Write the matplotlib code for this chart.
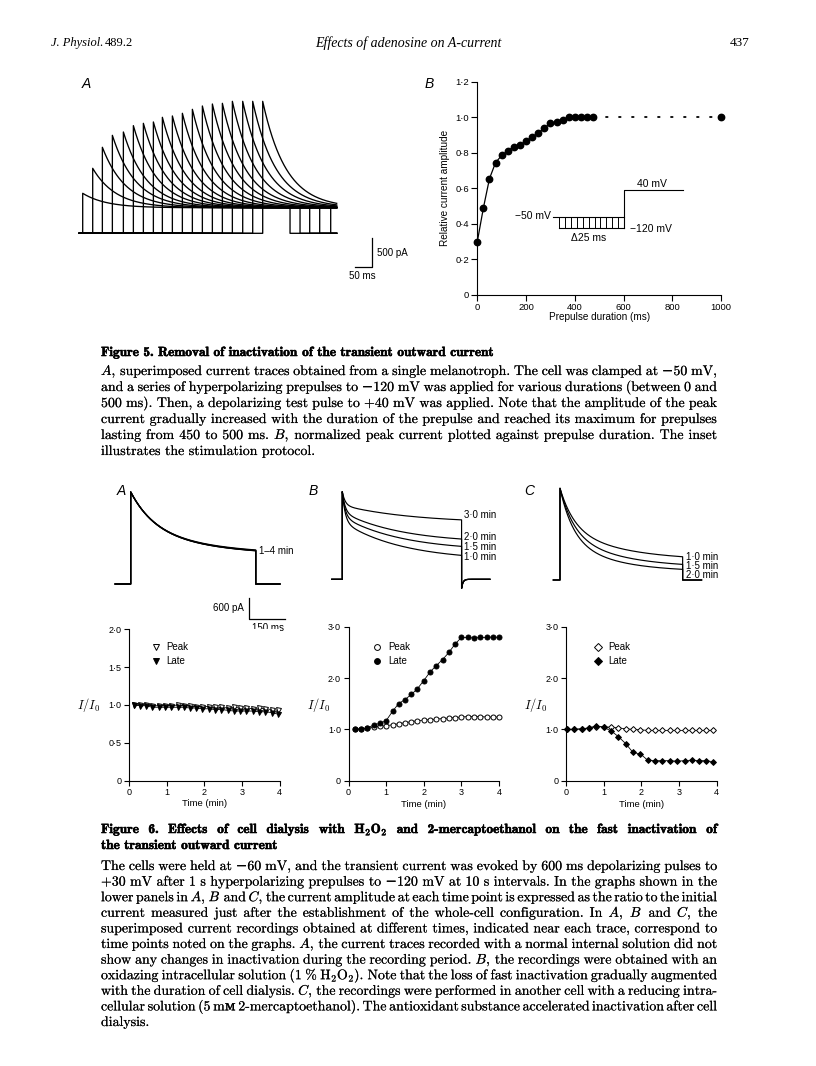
import numpy as np
import matplotlib.pyplot as plt
import matplotlib.patheffects as pe

plt.rcParams['mathtext.fontset'] = 'cm'
plt.rcParams['axes.linewidth'] = 0.8

W, H = 816, 1066
SANS = 'Liberation Sans'
SERIF = ['cmr10', 'DejaVu Serif', 'DejaVu Sans']
BOLD = ['cmb10', 'DejaVu Serif']

# ---------------- Figure 5A : superimposed current traces ----------------
f5a_onset_ms = [0, 30, 59, 89, 122, 152, 182, 212, 239, 269, 299, 329, 359, 389, 419, 449, 480, 510, 540]
f5a_peak_pA = [706, 1147, 1518, 1729, 1788, 1900, 1941, 1965, 2047, 2071, 2118, 2188, 2247, 2282, 2294,
               2329, 2329, 2329, 2329]
f5a_steady_pA = 450
f5a_tau_ms = 70
f5a_pulse_ms = 622
f5a_window_ms = (-10, 762)

# ---------------- Figure 5B : relative amplitude vs prepulse ----------------
f5b_prepulse_ms = [0, 25, 50, 75, 100, 125, 150, 175, 200, 225, 250, 275, 300, 325, 350, 375, 400, 425, 450, 475]
f5b_rel_amp = [0.30, 0.49, 0.655, 0.745, 0.785, 0.81, 0.835, 0.845, 0.865, 0.89, 0.91, 0.94, 0.965, 0.975,
               0.985, 1.0, 1.0, 1.0, 1.0, 1.0]
f5b_long_ms = 1000
f5b_long_amp = 1.0
f5b_xticks = [0, 200, 400, 600, 800, 1000]
f5b_yticks = [0, 0.2, 0.4, 0.6, 0.8, 1.0, 1.2]
f5b_yticklabels = ['0', '0·2', '0·4', '0·6', '0·8', '1·0', '1·2']

# ---------------- Figure 6 traces ----------------
f6a_steady = [800, 785, 815, 795]
f6a_fast = [1086, 1090, 1075, 1100]
f6a_slow = [743, 760, 735, 735]
f6a_tau = (100, 330)
f6a_pulse_ms = 521

f6b_labels = ['1·0 min', '1·5 min', '2·0 min', '3·0 min']
f6b_steady = [531, 806, 1029, 1600]
f6b_fast = [857, 714, 589, 389]
f6b_slow = [1114, 983, 886, 514]
f6b_tau_slow = [250, 250, 250, 300]
f6b_tau_fast = 12
f6b_pulse_ms = 497
f6b_undershoot = -257

f6c_labels = ['1·0 min', '1·5 min', '2·0 min']
f6c_steady = [543, 343, 229]
f6c_fast = [1143, 1286, 1429]
f6c_slow = [934, 991, 963]
f6c_tau_fast = [60, 58, 55]
f6c_tau_slow = [250, 225, 200]
f6c_pulse_ms = 511

# ---------------- Figure 6 time courses ----------------
t_a = [0.12, 0.29, 0.45, 0.62, 0.79, 0.95, 1.12, 1.29, 1.45, 1.62, 1.79, 1.95, 2.12, 2.29, 2.45, 2.62,
       2.79, 2.95, 3.12, 3.29, 3.45, 3.62, 3.79, 3.95]
peak_a = [1.0, 1.0, 1.0, 0.99, 0.99, 0.99, 0.99, 1.0, 0.99, 0.99, 0.98, 0.98, 0.98, 0.97, 0.97, 0.96,
          0.97, 0.96, 0.96, 0.95, 0.96, 0.95, 0.94, 0.93]
late_a = [1.0, 0.99, 0.99, 0.97, 0.97, 0.97, 0.97, 0.97, 0.97, 0.96, 0.96, 0.95, 0.95, 0.94, 0.94, 0.93,
          0.92, 0.92, 0.92, 0.92, 0.91, 0.91, 0.90, 0.88]

t_b = [0.17, 0.33, 0.5, 0.67, 0.83, 1.0, 1.17, 1.33, 1.5, 1.67, 1.83, 2.0, 2.17, 2.33, 2.5, 2.67, 2.83,
       3.0, 3.17, 3.33, 3.5, 3.67, 3.83, 4.0]
peak_b = [1.0, 1.01, 1.02, 1.04, 1.06, 1.07, 1.09, 1.11, 1.13, 1.15, 1.17, 1.18, 1.19, 1.20, 1.21, 1.22,
          1.23, 1.24, 1.25, 1.25, 1.25, 1.24, 1.24, 1.24]
late_b = [1.0, 1.01, 1.02, 1.09, 1.115, 1.17, 1.35, 1.50, 1.58, 1.68, 1.79, 1.95, 2.12, 2.24, 2.36, 2.50,
          2.66, 2.79, 2.79, 2.78, 2.79, 2.79, 2.80, 2.79]

t_c = [0.03, 0.22, 0.42, 0.61, 0.81, 1.0, 1.2, 1.39, 1.59, 1.78, 1.98, 2.17, 2.37, 2.56, 2.76, 2.95,
       3.15, 3.34, 3.54, 3.73, 3.9]
peak_c = [1.0, 1.0, 1.01, 1.02, 1.05, 1.05, 1.04, 1.03, 1.01, 1.0, 0.99, 0.98, 0.98, 0.98, 0.98, 0.98,
          0.98, 0.98, 0.98, 0.98, 0.98]
late_c = [1.0, 1.0, 1.01, 1.03, 1.07, 1.04, 0.97, 0.86, 0.72, 0.55, 0.52, 0.40, 0.39, 0.39, 0.39, 0.38,
          0.39, 0.40, 0.39, 0.39, 0.37]

time_ticks = [0, 1, 2, 3, 4]
yt_a = [0, 0.5, 1.0, 1.5, 2.0]
ytl_a = ['0', '0·5', '1·0', '1·5', '2·0']
yt_bc = [0, 1.0, 2.0, 3.0]
ytl_bc = ['0', '1·0', '2·0', '3·0']

# ---------------- captions ----------------
cap5_title = 'Figure 5. Removal of inactivation of the transient outward current'
cap5_lines = [
    '$A$, superimposed current traces obtained from a single melanotroph. The cell was clamped at \u221250 mV,',
    'and a series of hyperpolarizing prepulses to \u2212120 mV was applied for various durations (between 0 and',
    '500 ms). Then, a depolarizing test pulse to +40 mV was applied. Note that the amplitude of the peak',
    'current gradually increased with the duration of the prepulse and reached its maximum for prepulses',
    'lasting from 450 to 500 ms. $B$, normalized peak current plotted against prepulse duration. The inset',
    'illustrates the stimulation protocol.',
]
cap6_title = [
    r'Figure 6. Effects of cell dialysis with H$_\mathbf{2}$O$_\mathbf{2}$ and 2-mercaptoethanol on the fast inactivation of',
    'the transient outward current',
]
cap6_lines = [
    'The cells were held at \u221260 mV, and the transient current was evoked by 600 ms depolarizing pulses to',
    '+30 mV after 1 s hyperpolarizing prepulses to \u2212120 mV at 10 s intervals. In the graphs shown in the',
    'lower panels in $A$, $B$ and $C$, the current amplitude at each time point is expressed as the ratio to the initial',
    'current measured just after the establishment of the whole-cell configuration. In $A$, $B$ and $C$, the',
    'superimposed current recordings obtained at different times, indicated near each trace, correspond to',
    'time points noted on the graphs. $A$, the current traces recorded with a normal internal solution did not',
    'show any changes in inactivation during the recording period. $B$, the recordings were obtained with an',
    r'oxidazing intracellular solution (1 % H$_2$O$_2$). Note that the loss of fast inactivation gradually augmented',
    'with the duration of cell dialysis. $C$, the recordings were performed in another cell with a reducing intra-',
    'cellular solution (5 m\u1d0d 2-mercaptoethanol). The antioxidant substance accelerated inactivation after cell',
    'dialysis.',
]

fig = plt.figure(figsize=(W / 100, H / 100), dpi=100)
renderer = fig.canvas.get_renderer()
INK = [pe.withStroke(linewidth=0.08, foreground='k')]
INK_BOLD = [pe.withStroke(linewidth=0.4, foreground='k')]


def px_axes(left, top, right, bottom):
    return fig.add_axes([left / W, 1 - bottom / H, (right - left) / W, (bottom - top) / H])


def trace_axes(box, x0, y0, xs, ys):
    # axes whose data units are ms / pA, t=0 and I=0 sit at pixel (x0, y0)
    left, top, right, bottom = box
    ax = px_axes(*box)
    ax.set_xlim((left - x0) / xs, (right - x0) / xs)
    ax.set_ylim((y0 - bottom) / ys, (y0 - top) / ys)
    ax.axis('off')
    return ax


def ftext(x, y, s, **kw):
    return fig.text(x / W, 1 - y / H, s, **kw)


def text_width(s, **kw):
    t = fig.text(0, 0, s, **kw)
    w = t.get_window_extent(renderer).width
    t.remove()
    return w


def pulse_trace(onset, dur, window, steady, comps, after=None):
    # current during a test pulse: steady + sum of exponential components
    t_end = min(onset + dur, window[1])
    tt = np.linspace(onset, t_end, 600)
    ii = steady + sum(a * np.exp(-(tt - onset) / tau) for a, tau in comps)
    xs = np.concatenate([[window[0], onset], tt])
    ys = np.concatenate([[0, 0], ii])
    if onset + dur < window[1]:
        if after is None:
            xs = np.concatenate([xs, [onset + dur, window[1]]])
            ys = np.concatenate([ys, [0, 0]])
        else:
            amp, tau = after
            t2 = np.linspace(onset + dur, window[1], 200)
            xs = np.concatenate([xs, t2])
            ys = np.concatenate([ys, amp * np.exp(-(t2 - onset - dur) / tau)])
    return xs, ys


# ================= header =================
hx = 51
ftext(hx, 46, 'J. Physiol.', family='Liberation Serif', style='italic', fontsize=9, va='baseline')
hx += text_width('J. Physiol.', family='Liberation Serif', style='italic', fontsize=9) + 1
ftext(hx, 46, '489.2', family='Liberation Serif', fontsize=9, va='baseline')
ftext(408, 47, 'Effects of adenosine on A-current', family='Liberation Serif', style='italic',
      fontsize=10, ha='center', va='baseline')
ftext(750, 46, '437', family='Liberation Serif', fontsize=9.5, ha='right', va='baseline')

# ================= Figure 5A =================
ftext(82, 88, 'A', family=SANS, style='italic', fontsize=10, va='baseline')
ax5a = trace_axes((60, 60, 440, 320), 82.7, 233.3, 1 / 3, 85 / 3 / 500)
for on, pk in zip(f5a_onset_ms, f5a_peak_pA):
    x, y = pulse_trace(on, f5a_pulse_ms, f5a_window_ms, f5a_steady_pA,
                       [(pk - f5a_steady_pA, f5a_tau_ms)])
    ax5a.plot(x, y, color='k', lw=0.95)
# scale bar 500 pA / 50 ms
sb_t, sb_i = 867, -589
ax5a.plot([sb_t - 50, sb_t, sb_t], [sb_i, sb_i, sb_i + 500], color='k', lw=0.9)
ax5a.text(sb_t + 15, sb_i + 250, '500 pA', family=SANS, fontsize=7, va='center')
ax5a.text(sb_t - 29, sb_i - 165, '50 ms', family=SANS, fontsize=7, ha='center', va='center')

# ================= Figure 5B =================
ftext(425, 88, 'B', family=SANS, style='italic', fontsize=10, va='baseline')
ax5b = px_axes(477.3, 81.7, 721, 295)
ax5b.plot(f5b_prepulse_ms, f5b_rel_amp, color='k', lw=0.9, marker='o', ms=4.6, clip_on=False, zorder=4)
ax5b.plot([f5b_prepulse_ms[-1], f5b_long_ms], [f5b_rel_amp[-1], f5b_long_amp], color='k', lw=1.3,
          linestyle=(0, (0.9, 6.3)), dash_capstyle='round')
ax5b.plot([f5b_long_ms], [f5b_long_amp], 'o', color='k', ms=4.6, clip_on=False, zorder=4)
ax5b.set_xlim(0, 1000)
ax5b.set_ylim(0, 1.2)
ax5b.set_xticks(f5b_xticks)
ax5b.set_yticks(f5b_yticks)
ax5b.set_yticklabels(f5b_yticklabels)
for s in ('top', 'right'):
    ax5b.spines[s].set_visible(False)
ax5b.tick_params(direction='out', length=4, width=0.8, labelsize=6.8, pad=2)
for lab in ax5b.get_xticklabels() + ax5b.get_yticklabels():
    lab.set_family(SANS)
ax5b.text(0.5, -0.102, 'Prepulse duration (ms)', transform=ax5b.transAxes, family=SANS, fontsize=7.2,
          ha='center', va='center')
ax5b.text(-0.131, 0.5, 'Relative current amplitude', transform=ax5b.transAxes, family=SANS, fontsize=7.2,
          ha='center', va='center', rotation=90)
# protocol inset
hold_y, pre_y, test_y = 0.439, 0.379, 0.593
p0, p1, dstep, nstep, p_end = 312, 336, 24.2, 11, 845
p_test = p1 + nstep * dstep
ax5b.plot([p0, p_test], [hold_y, hold_y], color='k', lw=0.8)
ax5b.plot([p1, p_test], [pre_y, pre_y], color='k', lw=0.8)
for k in range(nstep):
    ax5b.plot([p1 + k * dstep] * 2, [pre_y, hold_y], color='k', lw=0.7)
ax5b.plot([p_test, p_test, p_end], [pre_y, test_y, test_y], color='k', lw=0.8)
ax5b.text(715, 0.626, '40 mV', family=SANS, fontsize=7.5, ha='center', va='center')
ax5b.text(302, 0.445, '\u221250 mV', family=SANS, fontsize=7.5, ha='right', va='center')
ax5b.text(626, 0.37, '\u2212120 mV', family=SANS, fontsize=7.5, ha='left', va='center')
ax5b.text(455, 0.323, '\u039425 ms', family=SANS, fontsize=7.5, ha='center', va='center')

# ================= captions helper =================
L, R = 101, 717


def space_w(family, fs, weight='normal'):
    return text_width('a a', family=family, fontsize=fs, weight=weight) - \
        text_width('aa', family=family, fontsize=fs, weight=weight)


def fit_size(lines, family, weight='normal', base=10.0, min_gap=0.55):
    # largest size at which every line still fits with word gaps >= min_gap * normal space
    sp = space_w(family, base, weight)
    best = 99
    for line in lines:
        words = line.split(' ')
        nat = sum(text_width(w, family=family, fontsize=base, weight=weight) for w in words)
        best = min(best, base * (R - L) / (nat + min_gap * sp * (len(words) - 1)))
    return best


def paragraph(lines, y0, dy, fs, family, weight='normal', free_last=True, effects=None):
    sp = space_w(family, fs, weight)
    for i, line in enumerate(lines):
        words = line.split(' ')
        ws = [text_width(w, family=family, fontsize=fs, weight=weight) for w in words]
        if (i == len(lines) - 1 and free_last) or len(words) == 1:
            gap = sp
        else:
            gap = (R - L - sum(ws)) / (len(words) - 1)
        x = L
        for w, wd in zip(words, ws):
            ftext(x, y0 + i * dy, w, family=family, fontsize=fs, weight=weight, va='baseline',
                  path_effects=effects)
            x += wd + gap


body_fs = fit_size(cap5_lines[:-1] + cap6_lines[:-1], SERIF)
title_fs = 0.86 * fit_size(cap6_title[:1], BOLD, min_gap=0.8)
paragraph([cap5_title], 356, 16, title_fs, BOLD, effects=INK_BOLD)
paragraph(cap5_lines, 375, 16, body_fs, SERIF, effects=INK)

# ================= Figure 6 traces =================
xs6, ys6 = 0.24, 21 / 600
ftext(117, 495, 'A', family=SANS, style='italic', fontsize=10, va='baseline')
ftext(309, 495, 'B', family=SANS, style='italic', fontsize=10, va='baseline')
ftext(524, 495, 'C', family=SANS, style='italic', fontsize=10, va='baseline')

ax6a = trace_axes((100, 480, 300, 640), 130.7, 584, xs6, ys6)
for st, fa, sl in zip(f6a_steady, f6a_fast, f6a_slow):
    x, y = pulse_trace(0, f6a_pulse_ms, (-65, 622), st, [(fa, f6a_tau[0]), (sl, f6a_tau[1])])
    ax6a.plot(x, y, color='k', lw=0.9)
ax6a.text(f6a_pulse_ms + 13, 951, '1\u20134 min', family=SANS, fontsize=7, va='center')
sb_t, sb_i = 493, -1009
ax6a.plot([sb_t, sb_t, sb_t + 150], [sb_i + 600, sb_i, sb_i], color='k', lw=0.9)
ax6a.text(sb_t - 20, sb_i + 315, '600 pA', family=SANS, fontsize=7, ha='right', va='center')
ax6a.text(sb_t + 79, sb_i - 248, '150 ms', family=SANS, fontsize=7, ha='center', va='center')

ax6b = trace_axes((300, 480, 520, 640), 342.3, 579.3, xs6, ys6)
b_label_y = [646, 931, 1200, 1849]
for lab, st, fa, sl, ts, ly in zip(f6b_labels, f6b_steady, f6b_fast, f6b_slow, f6b_tau_slow, b_label_y):
    x, y = pulse_trace(0, f6b_pulse_ms, (-44, 615), st, [(fa, f6b_tau_fast), (sl, ts)],
                       after=(f6b_undershoot, 6))
    ax6b.plot(x, y, color='k', lw=0.85)
    ax6b.text(f6b_pulse_ms + 10, ly, lab, family=SANS, fontsize=7, va='center')

ax6c = trace_axes((520, 480, 720, 640), 560, 580, xs6, ys6)
c_label_y = [666, 400, 143]
for lab, st, fa, sl, tf, ts, ly in zip(f6c_labels, f6c_steady, f6c_fast, f6c_slow, f6c_tau_fast,
                                       f6c_tau_slow, c_label_y):
    x, y = pulse_trace(0, f6c_pulse_ms, (-28, 590), st, [(fa, tf), (sl, ts)])
    ax6c.plot(x, y, color='k', lw=0.85)
    ax6c.text(f6c_pulse_ms + 14, ly, lab, family=SANS, fontsize=7, va='center')

# ================= Figure 6 time courses =================


def time_graph(box, ymax, yt, ytl, t, peak, late, mk, ms, leg_x, leg_y):
    ax = px_axes(*box)
    ax.plot(t, peak, color='k', lw=0.6, marker=mk, ms=ms, mfc='white', mec='k', mew=0.7,
            clip_on=False, zorder=3)
    ax.plot(t, late, color='k', lw=0.6, marker=mk, ms=ms, mfc='k', mec='k', mew=0.7,
            clip_on=False, zorder=4)
    ax.set_xlim(0, 4)
    ax.set_ylim(0, ymax)
    ax.set_xticks(time_ticks)
    ax.set_yticks(yt)
    ax.set_yticklabels(ytl)
    for s in ('top', 'right'):
        ax.spines[s].set_visible(False)
    ax.tick_params(direction='out', length=3.5, width=0.8, labelsize=6.5, pad=2)
    for lab in ax.get_xticklabels() + ax.get_yticklabels():
        lab.set_family(SANS)
    ax.text(0.5, -0.153, 'Time (min)', transform=ax.transAxes, family=SANS, fontsize=6.8,
            ha='center', va='center')
    for yy, name, fc in zip(leg_y, ['Peak', 'Late'], ['white', 'k']):
        ax.plot([leg_x], [yy], marker=mk, ms=ms + 0.6, mfc=fc, mec='k', mew=0.7,
                transform=ax.transAxes, clip_on=False)
        ax.text(leg_x + 0.073, yy, name, transform=ax.transAxes, family=SANS, fontsize=7, va='center')
    return ax


time_graph((129, 629.3, 279.5, 780.7), 2.0, yt_a, ytl_a, t_a, peak_a, late_a, 'v', 3.6,
           0.177, (0.885, 0.79))
time_graph((348.5, 626.7, 499, 780.7), 3.0, yt_bc, ytl_bc, t_b, peak_b, late_b, 'o', 3.6,
           0.19, (0.866, 0.777))
time_graph((566, 626.7, 716.5, 780.7), 3.0, yt_bc, ytl_bc, t_c, peak_c, late_c, 'D', 3.0,
           0.21, (0.866, 0.777))
for lx in (100, 330, 547):
    ftext(lx, 705, r'$I/I_0$', fontsize=9, ha='right', va='center')

# ================= Figure 6 caption =================
paragraph(cap6_title, 833, 16, title_fs, BOLD, effects=INK_BOLD)
paragraph(cap6_lines, 870, 15.6, body_fs, SERIF, effects=INK)

fig.savefig('out.png', dpi=100, facecolor='white')
